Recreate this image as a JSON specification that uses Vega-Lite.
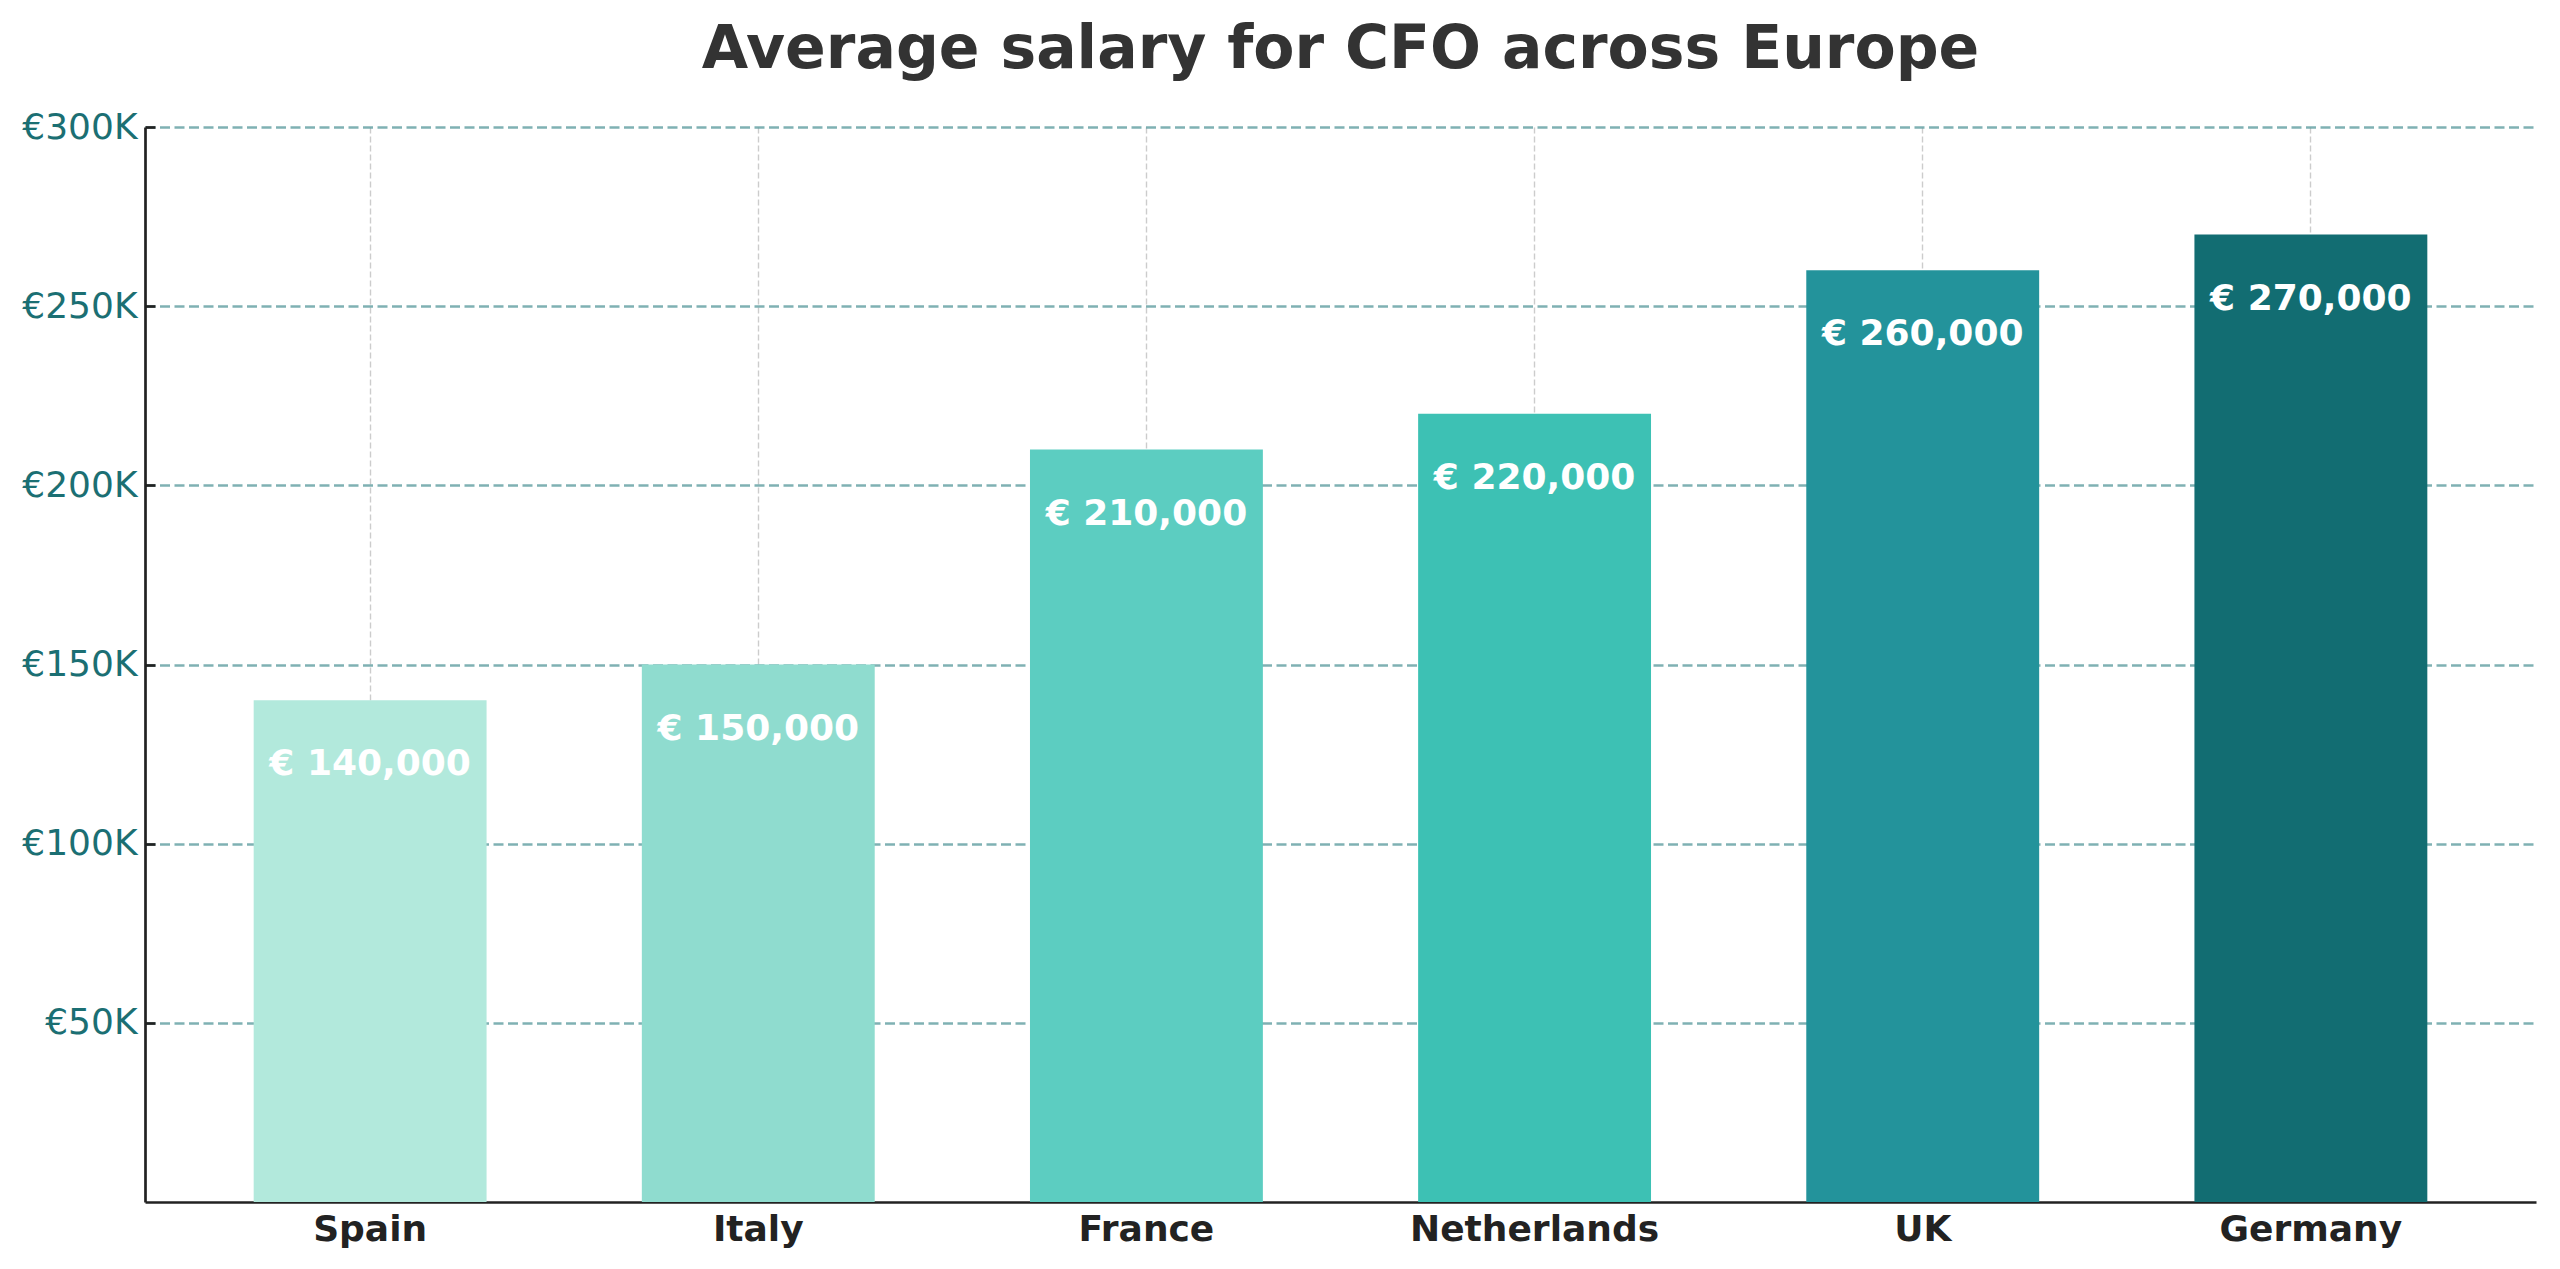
{
  "$schema": "https://vega.github.io/schema/vega-lite/v6.json",
  "width": 2391,
  "height": 1075,
  "autosize": "none",
  "padding": {"left": 145, "top": 127, "right": 24, "bottom": 67},
  "background": "white",
  "title": {
    "text": "Average salary for CFO across Europe",
    "font": "DejaVu Sans",
    "fontSize": 60,
    "fontWeight": "bold",
    "color": "#333333",
    "anchor": "middle",
    "baseline": "alphabetic",
    "offset": -19
  },
  "config": {
    "view": {"stroke": null},
    "locale": {
      "number": {"decimal": ".", "thousands": ",", "grouping": [3], "currency": ["€ ", ""]}
    }
  },
  "data": {
    "values": [
      {"country": "Spain", "salary": 140000},
      {"country": "Italy", "salary": 150000},
      {"country": "France", "salary": 210000},
      {"country": "Netherlands", "salary": 220000},
      {"country": "UK", "salary": 260000},
      {"country": "Germany", "salary": 270000}
    ]
  },
  "encoding": {
    "x": {
      "field": "country",
      "type": "nominal",
      "sort": null,
      "scale": {"paddingInner": 0.4, "paddingOuter": 0.28},
      "axis": {
        "title": null,
        "labelAngle": 0,
        "labelLimit": 0,
        "labelFont": "DejaVu Sans",
        "labelFontSize": 36,
        "labelFontWeight": "bold",
        "labelColor": "#222222",
        "labelPadding": 10,
        "ticks": false,
        "domainColor": "#222222",
        "domainWidth": 2.7,
        "grid": true,
        "bandPosition": 0.5,
        "gridColor": "#cccccc",
        "gridWidth": 1.4,
        "gridDash": [6, 3]
      }
    },
    "y": {
      "field": "salary",
      "type": "quantitative",
      "scale": {"domain": [0, 300000], "nice": false},
      "axis": {
        "title": null,
        "values": [50000, 100000, 150000, 200000, 250000, 300000],
        "labelExpr": "'€' + format(datum.value / 1000, 'd') + 'K'",
        "labelFont": "DejaVu Sans",
        "labelFontSize": 36,
        "labelColor": "#1b6f73",
        "labelPadding": 18,
        "tickSize": -10,
        "tickWidth": 2.7,
        "tickColor": "#222222",
        "domainColor": "#222222",
        "domainWidth": 2.7,
        "grid": true,
        "gridColor": "#5f9ea0",
        "gridOpacity": 0.8,
        "gridWidth": 2.7,
        "gridDash": [10, 4.5]
      }
    }
  },
  "layer": [
    {
      "mark": {"type": "bar"},
      "encoding": {
        "color": {
          "field": "country",
          "type": "nominal",
          "sort": null,
          "scale": {
            "domain": ["Spain", "Italy", "France", "Netherlands", "UK", "Germany"],
            "range": ["#b2e9dc", "#8fdccf", "#5ccdc1", "#3dc1b4", "#23939b", "#126d72"]
          },
          "legend": null
        }
      }
    },
    {
      "mark": {
        "type": "text",
        "color": "white",
        "font": "DejaVu Sans",
        "fontSize": 36,
        "fontWeight": "bold",
        "baseline": "middle",
        "align": "center",
        "dy": 64
      },
      "encoding": {
        "text": {"field": "salary", "type": "quantitative", "format": "$,.0f"}
      }
    }
  ]
}
